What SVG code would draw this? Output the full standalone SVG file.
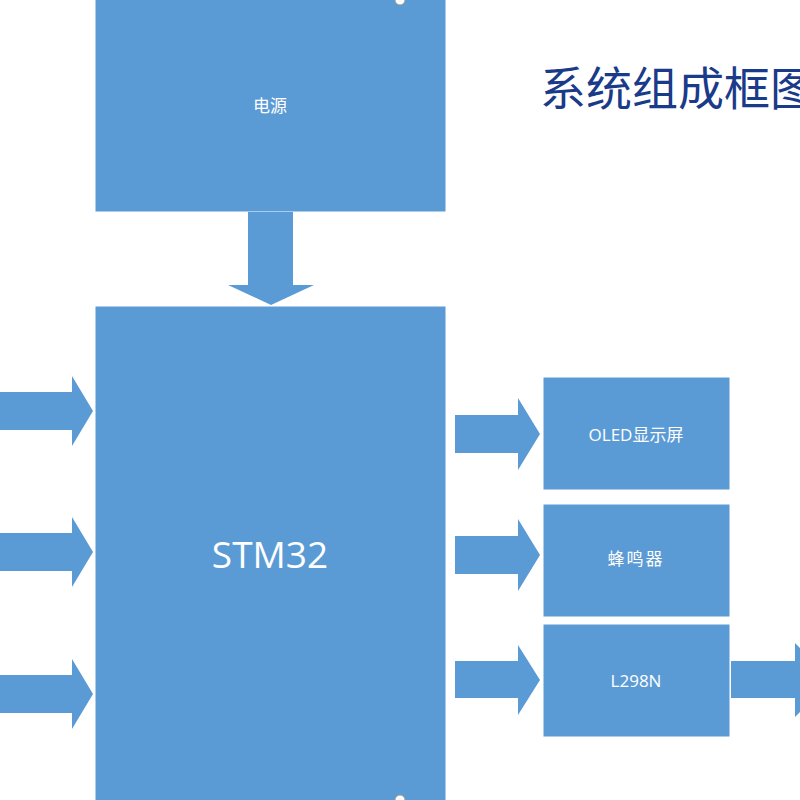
<svg xmlns="http://www.w3.org/2000/svg" width="800" height="800" viewBox="0 0 800 800">
<style>
.b{fill:#5B9BD5;stroke:#fff;stroke-width:1}
.a{fill:#5B9BD5}
.t{fill:#fff;font-family:"Open Sans","Noto Sans CJK SC",sans-serif;text-anchor:middle;dominant-baseline:central}
</style>
<rect width="800" height="800" fill="#fff"/>
<g id="power"><rect class="b" x="95" y="-1" width="351" height="213"/><text class="t" x="270" y="105" font-size="17">电源</text></g>
<g id="stm32"><rect class="b" x="95" y="306" width="351" height="500"/><text class="t" x="270" y="553" font-size="37">STM32</text></g>
<g id="oled"><rect class="b" x="543" y="377" width="187" height="113"/><text class="t" x="636" y="434" font-size="17">OLED显示屏</text></g>
<g id="buzzer"><rect class="b" x="543" y="504" width="187" height="113"/><text class="t" x="636" y="558" font-size="17" letter-spacing="2">蜂鸣器</text></g>
<g id="l298n"><rect class="b" x="543" y="624" width="187" height="113"/><text class="t" x="636" y="680" font-size="17">L298N</text></g>
<g id="connectors">
<polygon class="a" points="248,212 293,212 293,285 314,285 271,305 228,285 248,285"/>
<polygon class="a" points="0,392 72,392 72,376 93,411 72,446 72,430 0,430"/>
<polygon class="a" points="0,533 72,533 72,517 93,552 72,587 72,571 0,571"/>
<polygon class="a" points="0,675 72,675 72,659 93,694 72,729 72,713 0,713"/>
<polygon class="a" points="455,415 518,415 518,398 540,434 518,470 518,453 455,453"/>
<polygon class="a" points="455,536 518,536 518,519 540,555 518,591 518,574 455,574"/>
<polygon class="a" points="455,661 518,661 518,645 540,680 518,715 518,698 455,698"/>
<polygon class="a" points="731,661 795,661 795,643 832,680 795,717 795,698 731,698"/>
</g>
<text x="540" y="105" font-size="46" fill="#1A3A8A" font-family="'Noto Sans CJK SC',sans-serif">系统组成框图</text>
<circle cx="400" cy="0" r="5" fill="#fff" stroke="#999"/>
<circle cx="400" cy="800" r="5" fill="#fff" stroke="#999"/>
</svg>
